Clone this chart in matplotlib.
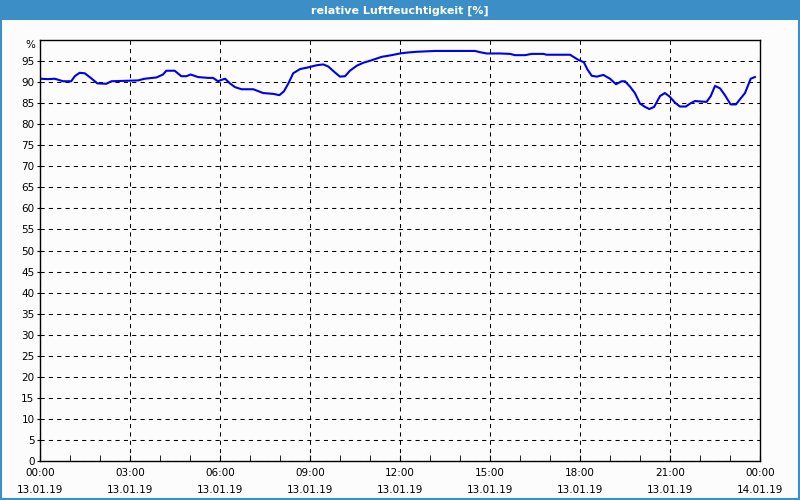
import matplotlib
matplotlib.use("Agg")
from matplotlib import pyplot as plt
from matplotlib.patches import Rectangle
from matplotlib.ticker import MultipleLocator

# Daten: Stunden seit 13.01.19 00:00 und relative Luftfeuchte in %
stunden = [0.0, 0.27, 0.49, 0.77, 1.04, 1.16, 1.32, 1.49, 1.71, 1.91, 2.21, 2.38,
           2.82, 3.27, 3.49, 3.88, 4.1, 4.21, 4.49, 4.71, 4.88, 5.02, 5.27, 5.6,
           5.77, 5.93, 6.08, 6.17, 6.33, 6.5, 6.72, 7.11, 7.44, 7.78, 7.98, 8.13,
           8.28, 8.44, 8.67, 8.94, 9.22, 9.44, 9.61, 9.83, 10.0, 10.17, 10.33,
           10.56, 10.78, 11.06, 11.39, 11.72, 12.0, 12.22, 12.55, 13.17, 13.67,
           14.5, 14.67, 14.89, 15.33, 15.67, 15.83, 16.17, 16.39, 16.78, 16.89,
           17.67, 17.78, 17.94, 18.13, 18.24, 18.39, 18.56, 18.78, 19.0, 19.2,
           19.39, 19.5, 19.67, 19.83, 20.0, 20.17, 20.31, 20.47, 20.67, 20.83,
           20.98, 21.17, 21.33, 21.53, 21.67, 21.83, 22.22, 22.36, 22.5, 22.67,
           22.83, 23.02, 23.2, 23.33, 23.5, 23.69, 23.83]
feuchte = [90.8, 90.7, 90.8, 90.2, 90.2, 91.4, 92.2, 92.1, 90.9, 89.7, 89.6, 90.2,
           90.3, 90.4, 90.8, 91.1, 91.8, 92.7, 92.7, 91.4, 91.4, 91.8, 91.2, 91.0,
           91.0, 90.2, 90.6, 90.8, 89.7, 88.8, 88.3, 88.3, 87.4, 87.2, 86.9, 87.8,
           89.7, 92.1, 93.1, 93.5, 94.0, 94.2, 93.7, 92.3, 91.3, 91.4, 92.7,
           93.9, 94.6, 95.2, 96.0, 96.4, 96.8, 97.0, 97.2, 97.4, 97.4,
           97.4, 97.1, 96.8, 96.8, 96.7, 96.4, 96.4, 96.7, 96.7, 96.5,
           96.5, 96.0, 95.3, 94.7, 93.1, 91.5, 91.3, 91.7, 90.8, 89.5,
           90.2, 90.2, 88.9, 87.4, 84.9, 84.1, 83.6, 84.1, 86.7, 87.4,
           86.6, 85.1, 84.2, 84.2, 84.9, 85.5, 85.3, 86.7, 89.1, 88.5,
           86.9, 84.7, 84.7, 85.9, 87.4, 90.8, 91.2]

tick_pos = [0, 3, 6, 9, 12, 15, 18, 21, 24]
tick_labels = ["00:00\n13.01.19", "03:00\n13.01.19", "06:00\n13.01.19",
               "09:00\n13.01.19", "12:00\n13.01.19", "15:00\n13.01.19",
               "18:00\n13.01.19", "21:00\n13.01.19", "00:00\n14.01.19"]

blau = "#3c8fc6"

fig = plt.figure(figsize=(8, 5), dpi=100, facecolor="#fcfcfc")

# Titelleiste und Fensterrahmen
fig.patches.append(Rectangle((0, 0.96), 1, 0.04, transform=fig.transFigure,
                             facecolor=blau, edgecolor="none", zorder=0))
fig.patches.append(Rectangle((0.0012, 0.003), 0.9976, 0.96, transform=fig.transFigure,
                             facecolor="none", edgecolor=blau, linewidth=1.5, zorder=0))
fig.text(0.5, 0.979, "relative Luftfeuchtigkeit [%]", color="white",
         fontsize=8, fontweight="bold", ha="center", va="center")

ax = fig.add_axes([0.05, 0.078, 0.9, 0.842])
ax.set_facecolor("#fcfcfc")
ax.plot(stunden, feuchte, color="#0000ee", linewidth=1.5)

ax.set_xlim(0, 24)
ax.set_ylim(0, 100)
ax.set_xticks(tick_pos)
ax.set_xticklabels(tick_labels, fontsize=7.5, linespacing=1.9)
ax.xaxis.set_minor_locator(MultipleLocator(1))
ax.set_yticks(range(0, 100, 5))
ax.tick_params(axis="y", labelsize=7.5, length=2, pad=2)
ax.tick_params(axis="x", which="both", direction="in", length=4, pad=5)

ax.grid(True, color="black", linestyle=(0, (4, 4)), linewidth=0.75)
for s in ax.spines.values():
    s.set_linewidth(1.0)
    s.set_color("black")

ax.text(-0.006, 1.0, "%", transform=ax.transAxes, ha="right", va="top", fontsize=7.5)

plt.savefig("out.png", dpi=100, facecolor=fig.get_facecolor())
